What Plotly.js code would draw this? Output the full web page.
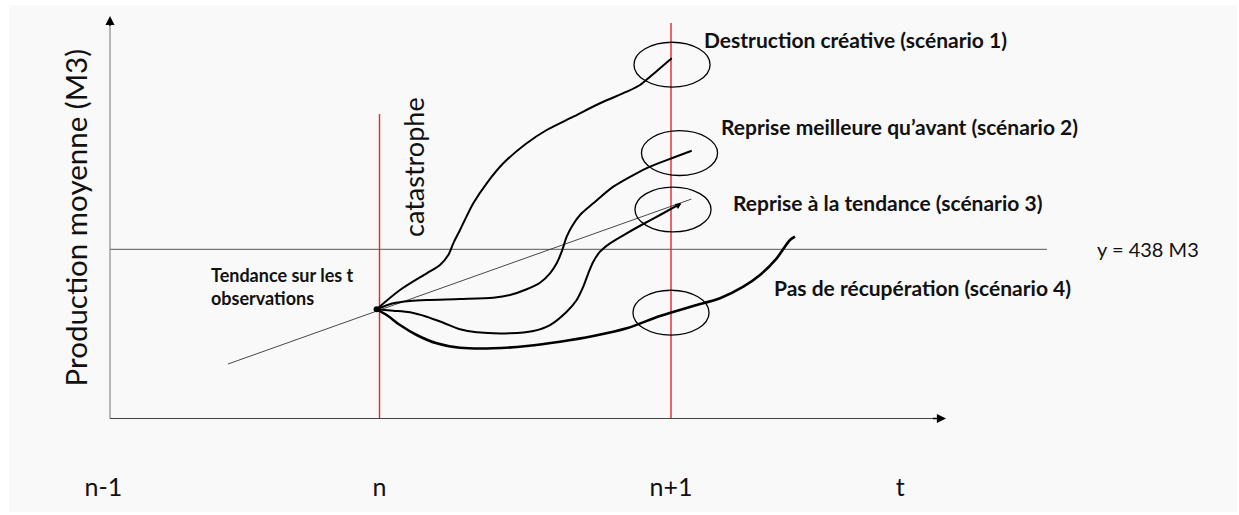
<!DOCTYPE html>
<html>
<head>
<meta charset="utf-8">
<script src="https://cdn.plot.ly/plotly-3.0.1.min.js"></script>
<style>html,body{margin:0;padding:0;background:#fff;}#chart{width:1239px;height:515px;}</style>
</head>
<body>
<div id="chart"></div>
<script>
// ---- data (time in periods: n = 1, n+1 = 2 ; production in M3) ----
const tickPositions = [0.053, 1, 2, 2.786];
const tickLabels = ["n-1", "n", "n+1", "t"];

const threshold = 438;             // y = 438 M3
const catastropheT = 1;            // n
const nextT = 2;                   // n+1

const trendT = [0.48, 1.0, 2.07];
const trendY = [141, 281, 568];

const s1T = [0.990, 1.0703, 1.1619, 1.2075, 1.2360, 1.2532, 1.2762, 1.3218, 1.3678, 1.4247, 1.5050, 1.5736, 1.6648, 1.7564, 1.8480, 1.8937, 1.9280, 1.9623, 2.0024];
const s1Y = [282.7, 332.6, 375.9, 397.4, 423.3, 453.5, 488.0, 557.1, 608.9, 660.6, 712.4, 746.8, 781.3, 816.0, 846.0, 863.3, 884.8, 906.6, 932.5];

const s2T = [0.990, 1.0473, 1.1046, 1.1619, 1.2762, 1.3904, 1.4477, 1.5050, 1.5506, 1.5849, 1.6079, 1.6250, 1.6422, 1.6594, 1.6878, 1.7334, 1.8021, 1.8707, 1.9280, 2.0024, 2.0710];
const s2Y = [282.7, 298.2, 304.2, 306.8, 309.3, 312.7, 319.7, 334.5, 351.5, 375.9, 401.8, 431.8, 470.6, 496.5, 526.8, 557.1, 600.1, 630.3, 651.8, 673.6, 693.2];

const s3T = [0.990, 1.0473, 1.1046, 1.1619, 1.2189, 1.2762, 1.3334, 1.4477, 1.5276, 1.5849, 1.6422, 1.6765, 1.6991, 1.7163, 1.7334, 1.7564, 1.7907, 1.8480, 1.9050, 1.9623, 2.0309];
const s3Y = [282.7, 279.1, 274.9, 263.5, 248.0, 230.9, 223.1, 220.6, 226.5, 242.0, 276.5, 306.8, 341.2, 375.9, 405.9, 431.8, 453.5, 479.4, 503.5, 526.8, 555.3];

const s4T = [0.990, 1.0247, 1.0703, 1.1276, 1.1962, 1.2762, 1.3904, 1.5050, 1.6192, 1.7334, 1.8480, 1.9623, 2.0765, 2.1681, 2.2480, 2.3053, 2.3626, 2.4082, 2.4254];
const s4Y = [282.7, 267.9, 242.0, 216.2, 194.7, 183.3, 181.7, 187.7, 198.8, 213.6, 233.5, 265.3, 291.2, 311.2, 341.2, 371.5, 414.7, 462.1, 470.6];

const scenarioLabels = [
  "Destruction créative (scénario 1)",
  "Reprise meilleure qu’avant (scénario 2)",
  "Reprise à la tendance (scénario 3)",
  "Pas de récupération (scénario 4)"
];
const labelT = [2.1063, 2.1647, 2.2058, 2.3465];
const labelY = [982, 755, 560, 340];

// scenario outcome at n+1 (circled)
const outcomeT = [2.0035, 2.0292, 2.0069, 2.0000];
const outcomeY = [916, 687, 541, 274];

const axisTopY = 1042;
const axisEndT = 2.9434;
const axisStartT = 0.0755;
const thresholdEndT = 3.29;
const catastropheTop = 788;
const nextTop = 1024;

// ---- build ----
const FONT = "Lato, 'Open Sans', sans-serif";
const curve = (x, y, w) => ({x, y, type: "scatter", mode: "lines",
  line: {color: "#000", width: w, shape: "spline", smoothing: 0.8}, hoverinfo: "skip"});
const vline = (t, top) => ({x: [t, t], y: [0, top], type: "scatter", mode: "lines",
  line: {color: "#e8262b", width: 1.4}, hoverinfo: "skip"});

const traces = [
  vline(catastropheT, catastropheTop),
  vline(nextT, nextTop),
  {x: trendT, y: trendY, type: "scatter", mode: "lines", line: {color: "#333", width: 0.9}, hoverinfo: "skip"},
  curve(s1T, s1Y, 2),
  curve(s2T, s2Y, 2),
  curve(s3T, s3Y, 2),
  curve(s4T, s4Y, 2.6),
  {x: [s1T[0]], y: [s1Y[0]], type: "scatter", mode: "markers",
   marker: {color: "#000", size: 6, symbol: "circle"}, hoverinfo: "skip"}
];

const rx = 0.1305, ry = 58;
const shapes = [
  {type: "rect", xref: "paper", yref: "paper", x0: 0, x1: 1, y0: -0.0903, y1: 1,
   fillcolor: "#f9f9f9", line: {width: 0}, layer: "below"},
  {type: "line", x0: axisStartT, x1: thresholdEndT, y0: threshold, y1: threshold, line: {color: "#555", width: 1}, layer: "below"},
  {type: "line", x0: axisStartT, x1: axisStartT, y0: 0, y1: axisTopY - 20, line: {color: "#888", width: 1.2}},
  {type: "line", x0: axisStartT, x1: axisEndT - 0.03, y0: 0, y1: 0, line: {color: "#444", width: 1.2}}
];
outcomeT.forEach((t, i) => shapes.push({type: "circle", x0: t - rx, x1: t + rx, y0: outcomeY[i] - ry, y1: outcomeY[i] + ry,
  line: {color: "#000", width: 1.3}}));

const annotations = [
  // axis arrowheads
  {x: axisStartT, y: axisTopY, ax: axisStartT, ay: axisTopY - 30, axref: "x", ayref: "y", xref: "x", yref: "y",
   showarrow: true, arrowhead: 2, arrowsize: 1.4, arrowwidth: 1.3, arrowcolor: "#000", text: ""},
  {x: axisEndT, y: 0, ax: axisEndT - 0.05, ay: 0, axref: "x", ayref: "y", xref: "x", yref: "y",
   showarrow: true, arrowhead: 2, arrowsize: 1.4, arrowwidth: 1.3, arrowcolor: "#000", text: ""},
  // small arrow at end of scenario 3
  {x: s3T[s3T.length - 1] + 0.005, y: s3Y[s3Y.length - 1] + 2, ax: s3T[s3T.length - 1] - 0.02, ay: s3Y[s3Y.length - 1] - 10,
   axref: "x", ayref: "y", xref: "x", yref: "y", showarrow: true, arrowhead: 2, arrowsize: 0.8, arrowwidth: 1.5, arrowcolor: "#000", text: ""},
  // threshold label
  {x: 3.4546, y: threshold, xref: "x", yref: "y", text: "y = " + threshold + " M3", showarrow: false,
   xanchor: "left", yanchor: "middle", font: {family: FONT, size: 20, color: "#111"}},
  // trend label
  {x: 0.4151, y: 343, xref: "x", yref: "y", text: "Tendance sur les t<br>observations", showarrow: false,
   xanchor: "left", yanchor: "middle", align: "left", font: {family: FONT, size: 18, color: "#111", weight: "bold"}},
  // catastrophe label
  {x: 1.1149, y: 651, xref: "x", yref: "y", text: "catastrophe", showarrow: false, textangle: -90,
   xanchor: "center", yanchor: "middle", font: {family: FONT, size: 27, color: "#111"}},
  // y axis title
  {x: -0.0446, y: 518, xref: "x", yref: "y", text: "Production moyenne (M3)", showarrow: false, textangle: -90,
   xanchor: "center", yanchor: "middle", font: {family: FONT, size: 29.5, color: "#111"}}
];
scenarioLabels.forEach((s, i) => annotations.push({x: labelT[i], y: labelY[i], xref: "x", yref: "y", text: s,
  showarrow: false, xanchor: "left", yanchor: "middle", font: {family: FONT, size: 21, color: "#111", weight: "bold"}}));

const layout = {
  width: 1239, height: 515,
  margin: {l: 9, r: 2, t: 5, b: 45},
  paper_bgcolor: "#ffffff", plot_bgcolor: "rgba(0,0,0,0)",
  showlegend: false, hovermode: false,
  xaxis: {range: [-0.2710, 3.9417], tickvals: tickPositions, ticktext: tickLabels,
          showgrid: false, zeroline: false, showline: false, ticks: "",
          tickfont: {family: FONT, size: 25, color: "#111"}, fixedrange: true},
  yaxis: {range: [-133.3, 1070.4], showgrid: false, zeroline: false, showline: false,
          showticklabels: false, ticks: "", fixedrange: true},
  shapes, annotations
};

Plotly.newPlot("chart", traces, layout, {displayModeBar: false, staticPlot: true});
</script>
</body>
</html>
